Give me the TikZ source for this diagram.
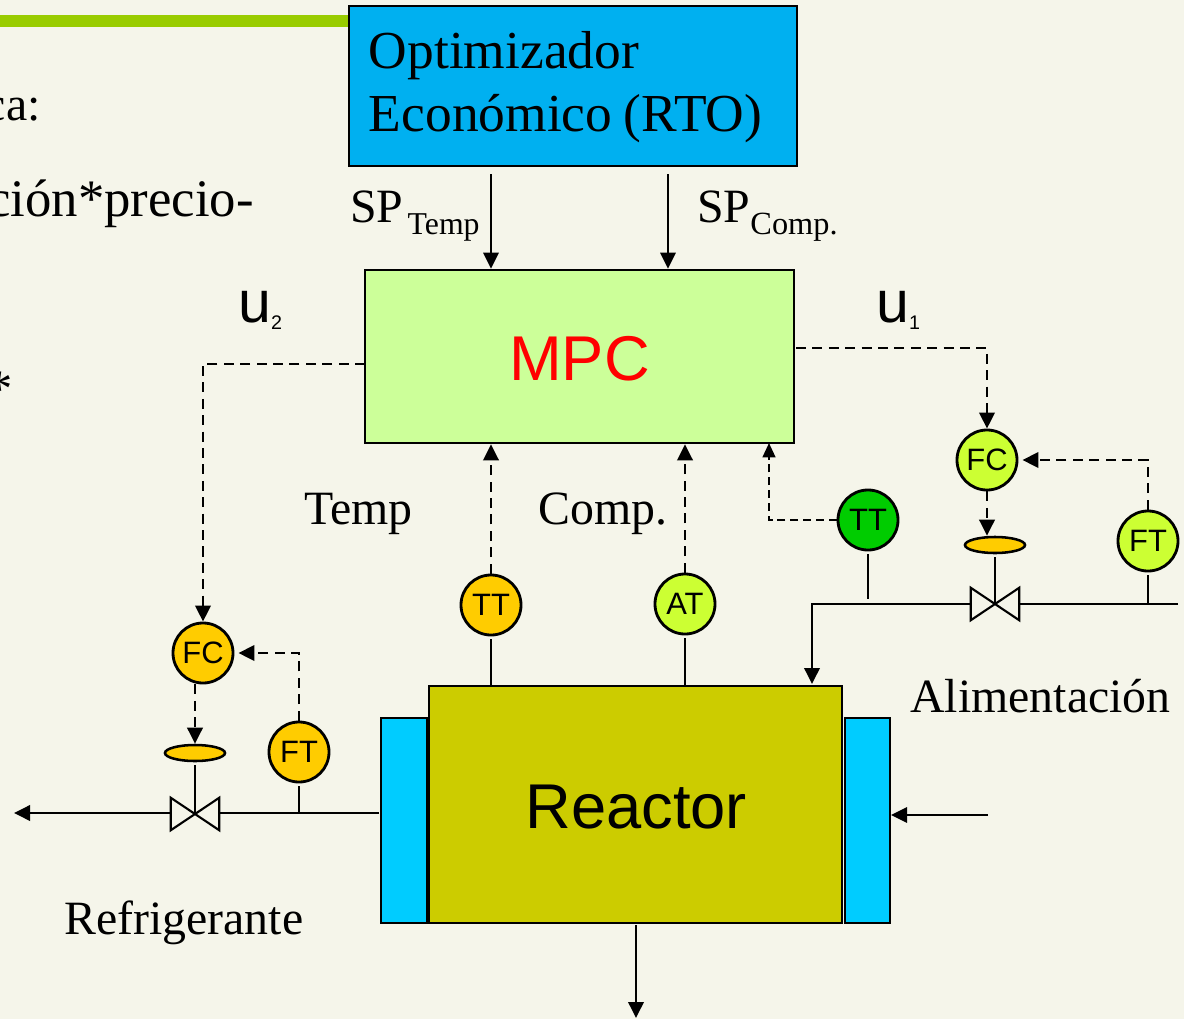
\documentclass[tikz,border=0pt]{standalone}
\usepackage{fontspec}
\setmainfont{Liberation Serif}
\setsansfont{Liberation Sans}
\usetikzlibrary{arrows.meta,shapes.geometric}
\definecolor{paper}{HTML}{F5F5EA}
\definecolor{barGreen}{HTML}{99CC00}
\definecolor{rtoBlue}{HTML}{00B0F0}
\definecolor{mpcGreen}{HTML}{CCFF99}
\definecolor{reactorOlive}{HTML}{CCCC00}
\definecolor{jacketBlue}{HTML}{00CCFF}
\definecolor{instYellow}{HTML}{FFCC00}
\definecolor{instLime}{HTML}{CCFF33}
\definecolor{instGreen}{HTML}{00CC00}
\newcommand{\sertext}{\fontsize{34}{40}\selectfont}
\newcommand{\slidetext}{\fontsize{37.5}{40}\selectfont}
\newcommand{\utext}[1]{\sffamily\fontsize{42}{44}\selectfont u\raisebox{-5pt}{\fontsize{14}{14}\selectfont #1}}
\newcommand{\lowered}[2]{\raisebox{-#1}[\height][\depth]{#2}}

\begin{document}
\begin{tikzpicture}[
    x=0.025cm, y=-0.025cm,
    box/.style={rectangle, draw, line width=1.8pt, inner sep=0pt},
    inst/.style={circle, draw, line width=2pt, minimum size=1.5cm, inner sep=0pt, font=\sffamily\fontsize{22}{22}\selectfont},
    actuator/.style={ellipse, draw, fill=instYellow, line width=1.8pt, minimum width=1.5cm, minimum height=0.4cm, inner sep=0pt},
    valve/.style={rectangle, minimum width=1.2cm, minimum height=0.8cm, inner sep=0pt},
    label/.style={anchor=base west, inner sep=0pt, font=\sertext},
    pipe/.style={line width=2.1pt},
    stem/.style={pipe, shorten <=0.07cm},
    arrow/.style={line width=2.1pt, -{Triangle[length=0.4cm,width=0.38cm]}},
    setpoint/.style={arrow, line width=1.9pt},
    signal/.style={arrow, line width=2.1pt, dash pattern=on 0.25cm off 0.16cm},
    thinsignal/.style={line width=1.5pt, dash pattern=on 0.2cm off 0.12cm, -{Triangle[length=0.36cm,width=0.32cm]}}
]
\useasboundingbox (0,0) rectangle (1184,1019);
\fill[paper] (0,0) rectangle (1184,1019);

% Slide behind the diagram
\fill[barGreen] (0,15) rectangle (349,27);
\node[label, anchor=base east] (slideA) at (41,120) {ca:};
\node[label, anchor=base east, font=\slidetext] (slideB) at (254,216) {ción*precio-};
\node[label, anchor=base east, font=\slidetext] (slideC) at (13,406) {*};

% Blocks
\node[box, fill=rtoBlue, minimum width=11.2cm, minimum height=4cm, text width=10.2cm, align=left, font=\fontsize{38}{45.5}\selectfont] (rto) at (573,86) {\lowered{1.2pt}{Optimizador}\\\lowered{0.8pt}{Económico\hspace{-4.5pt} (RTO)}};
\node[box, fill=mpcGreen, minimum width=10.725cm, minimum height=4.325cm, text=red, font=\sffamily\fontsize{45}{45}\selectfont] (mpc) at (579.5,356.5) {\lowered{1.4pt}{MPC}};
\node[box, fill=jacketBlue, minimum width=1.15cm, minimum height=5.125cm] (jacketL) at (404,820.5) {};
\node[box, fill=jacketBlue, minimum width=1.125cm, minimum height=5.125cm] (jacketR) at (867.5,820.5) {};
\node[box, fill=reactorOlive, minimum width=10.325cm, minimum height=5.925cm, font=\sffamily\fontsize{45}{45}\selectfont] (reactor) at (635.5,804.5) {\hspace{1pt}\lowered{1.6pt}{Reactor}};

% Instruments
\node[inst, fill=instYellow] (fc1) at (203,653) {FC};
\node[inst, fill=instYellow] (ft1) at (299,752) {FT};
\node[inst, fill=instYellow] (tt1) at (491,605) {TT};
\node[inst, fill=instLime] (at1) at (685,604) {AT};
\node[inst, fill=instGreen] (tt2) at (868,520) {TT};
\node[inst, fill=instLime] (fc2) at (987,460) {FC};
\node[inst, fill=instLime] (ft2) at (1148,541) {FT};

% Valves
\node[actuator] (act1) at (195,753) {};
\node[valve] (valve1) at (195,814) {};
\node[actuator] (act2) at (995,545) {};
\node[valve] (valve2) at (995,604) {};
\foreach \v in {valve1,valve2} {
    \draw[line width=1.5pt] (\v.south west) -- (\v.north east) -- (\v.south east) -- (\v.north west) -- cycle;
}

% Free ends
\coordinate (spT) at (491,174);
\coordinate (spC) at (668,174);
\coordinate (u1Out) at (796,348);
\coordinate (u2Out) at (365,364);
\coordinate (ttIn) at (769,443);
\coordinate (coolOut) at (14,813);
\coordinate (coolIn) at (379,813);
\coordinate (feedIn) at (1178,604);
\coordinate (feedDown) at (812,604);
\coordinate (feedEnd) at (812,684);
\coordinate (jacketIn) at (988,815);
\coordinate (jacketEnd) at (891,815);
\coordinate (prodOut) at (636,925);
\coordinate (prodEnd) at (636,1018);

% Setpoints
\draw[setpoint] (spT) -- (spT |- mpc.north);
\draw[setpoint] (spC) -- (spC |- mpc.north);

% Control signals
\draw[signal] (u2Out) -| (fc1.north);
\draw[signal] (u1Out) -| (fc2.north);
\draw[signal, shorten >=0.1cm] (ft1.north) |- (fc1.east);
\draw[signal, shorten >=0.1cm] (ft2.north) |- (fc2.east);
\draw[signal] (act1.north |- fc1.south) -- (act1.north);
\draw[signal] (fc2.south) -- (fc2.south |- act2.north);
\draw[signal] (tt1.north) -- (tt1.north |- mpc.south);
\draw[signal] (at1.north) -- (at1.north |- mpc.south);
\draw[thinsignal] (tt2.west) -| (ttIn);

% Pipes
\draw[stem] (act1.south) -- (valve1.center);
\draw[stem] (act2.south) -- (valve2.center);
\draw[stem] (tt1.south) -- (tt1.south |- reactor.north);
\draw[stem] (at1.south) -- (at1.south |- reactor.north);
\draw[stem] (ft1.south) -- (ft1.south |- coolIn);
\draw[stem] (ft2.south) -- (ft2.south |- feedIn);
\draw[stem, shorten >=0.12cm] (tt2.south) -- (tt2.south |- feedIn);
\draw[pipe] (coolIn) -- (valve1.east |- coolIn);
\draw[arrow] (valve1.west |- coolIn) -- (coolOut);
\draw[pipe] (feedIn) -- (valve2.east);
\draw[arrow] (valve2.west) -- (feedDown) -- (feedEnd);
\draw[arrow, line width=1.5pt] (jacketIn) -- (jacketEnd);
\draw[arrow] (prodOut) -- (prodEnd);

% Labels
\node[label] (spTempLabel) at (350,222) {SP\hspace{3pt}\raisebox{-9pt}{\fontsize{22.6}{23}\selectfont Temp}};
\node[label] (spCompLabel) at (697,222) {SP\raisebox{-9pt}{\fontsize{23}{23}\selectfont Comp.}};
\node[label] (u2Label) at (238,322) {\utext{2}};
\node[label] (u1Label) at (876,322) {\utext{1}};
\node[label] (tempLabel) at (304,524) {Temp};
\node[label] (compLabel) at (538,524) {Comp.};
\node[label] (feedLabel) at (910,712) {Alimentación};
\node[label] (coolLabel) at (64,934) {Refrigerante};

\end{tikzpicture}
\end{document}
